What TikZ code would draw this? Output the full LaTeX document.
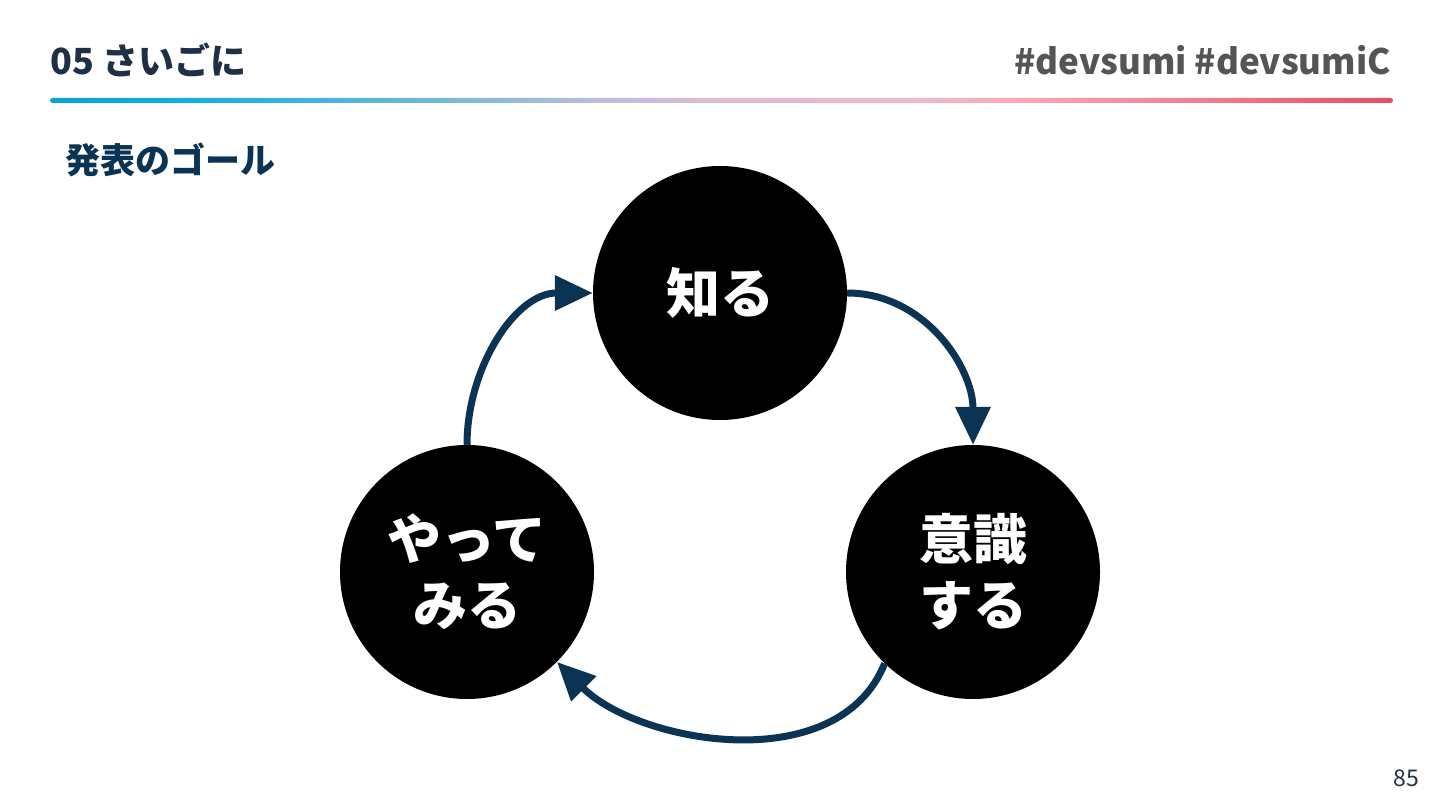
\documentclass[tikz,border=0pt]{standalone}
\usepackage{fontspec}
\setmainfont{Noto Sans CJK JP}
\usetikzlibrary{arrows.meta,positioning}
\definecolor{navy}{HTML}{0B3354}
\definecolor{headnavy}{HTML}{1F3044}
\definecolor{taggray}{HTML}{555555}
\pgfdeclarehorizontalshading{headline}{100bp}{
  color(0bp)=(rgb,255:red,11;green,163;blue,208);
  color(25bp)=(rgb,255:red,11;green,163;blue,208);
  color(30bp)=(rgb,255:red,16;green,176;blue,216);
  color(40bp)=(rgb,255:red,122;green,184;blue,216);
  color(45bp)=(rgb,255:red,184;green,188;blue,220);
  color(50bp)=(rgb,255:red,224;green,186;blue,214);
  color(57.5bp)=(rgb,255:red,240;green,184;blue,200);
  color(61bp)=(rgb,255:red,246;green,170;blue,182);
  color(67.5bp)=(rgb,255:red,240;green,128;blue,144);
  color(75bp)=(rgb,255:red,232;green,76;blue,100);
  color(100bp)=(rgb,255:red,232;green,76;blue,100)}

\begin{document}
\begin{tikzpicture}[x=1pt,y=1pt,
    stage/.style={circle, fill=black, minimum size=254pt, inner sep=0pt,
      text=white, align=center, font=\bfseries\fontsize{54}{66}\selectfont},
    cycle/.style={line width=7pt, navy, -{Triangle[length=38pt,width=34pt]}}]
    \useasboundingbox (0,0) rectangle (1440,810);
    \node[anchor=base west, text=headnavy, inner sep=0pt, font=\bfseries\fontsize{36}{40}\selectfont] (title) at (50,735) {05 さいごに};
    \node[anchor=base east, text=taggray, inner sep=0pt, font=\bfseries\fontsize{35}{40}\selectfont] (tags) at (1391,735) {\#devsumi \#devsumiC};
    \shade[shading=headline, rounded corners=2.5pt] (50,707) rectangle (1393,712);
    \node[anchor=west, text=navy, inner sep=0pt, font=\bfseries\fontsize{35}{40}\selectfont] (goal) at (65,650) {発表のゴール};
    \node[stage] (know) at (720,517) {知る};
    \node[stage] (aware) at (973,238) {意識\\する};
    \node[stage] (try) at (467,238) {やって\\みる};
    \draw[cycle] (know.east) to[out=0,in=90] (aware.north);
    \draw[cycle] (aware.226) .. controls +(-112:125) and +(-45:115) .. (try.-45);
    \draw[cycle] (try.north) to[out=90,in=180] (know.west);
    \node[anchor=east, text=headnavy, inner sep=0pt, font=\fontsize{23}{26}\selectfont] (page) at (1419,32) {85};
  \end{tikzpicture}
\end{document}
